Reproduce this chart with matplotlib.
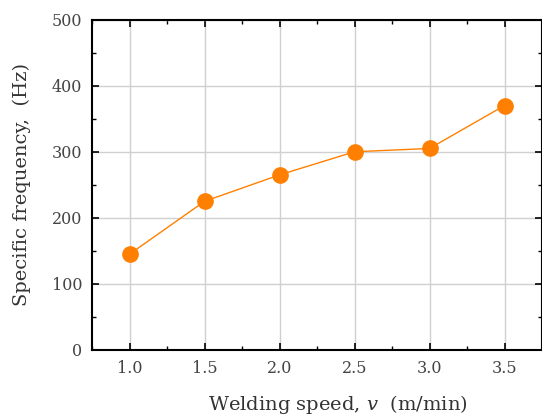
import matplotlib
matplotlib.use("Agg")
import matplotlib.pyplot as plt
from matplotlib.ticker import MultipleLocator

speed = [1.0, 1.5, 2.0, 2.5, 3.0, 3.5]
freq = [145, 225, 265, 300, 305, 370]
xticks = [1.0, 1.5, 2.0, 2.5, 3.0, 3.5]
yticks = [0, 100, 200, 300, 400, 500]

plt.rcParams['font.family'] = ['DejaVu Serif']
plt.rcParams['mathtext.fontset'] = 'dejavuserif'

fig = plt.figure(figsize=(5.42, 4.19), dpi=100)
ax = fig.add_axes([0.170, 0.165, 0.830, 0.788])
ax.plot(speed, freq, color='#ff8000', lw=1.0, marker='o', markersize=11,
        markerfacecolor='#ff8000', markeredgecolor='#ff8000', zorder=3)
ax.set_xlim(0.75, 3.75)
ax.set_ylim(0, 500)
ax.set_xticks(xticks)
ax.set_xticklabels([f"{t:.1f}" for t in xticks])
ax.set_yticks(yticks)
ax.xaxis.set_minor_locator(MultipleLocator(0.25))
ax.yaxis.set_minor_locator(MultipleLocator(50))
ax.grid(True, which='major', color='#d0d0d0', lw=1.0)
ax.set_axisbelow(True)
ax.tick_params(which='both', direction='in', top=True, right=True,
               labelsize=11.5, labelcolor='#444444', pad=7)
ax.tick_params(which='major', length=5, width=1.2)
ax.tick_params(which='minor', length=3, width=1.0)
for s in ax.spines.values():
    s.set_linewidth(1.5)
ax.set_xlabel("Welding speed, $v$  (m/min)", fontsize=14, color='#333333')
ax.xaxis.set_label_coords(0.546, -0.13)
ax.set_ylabel("Specific frequency,  (Hz)", fontsize=14, color='#333333', labelpad=15)
fig.savefig("out.png", dpi=100)
